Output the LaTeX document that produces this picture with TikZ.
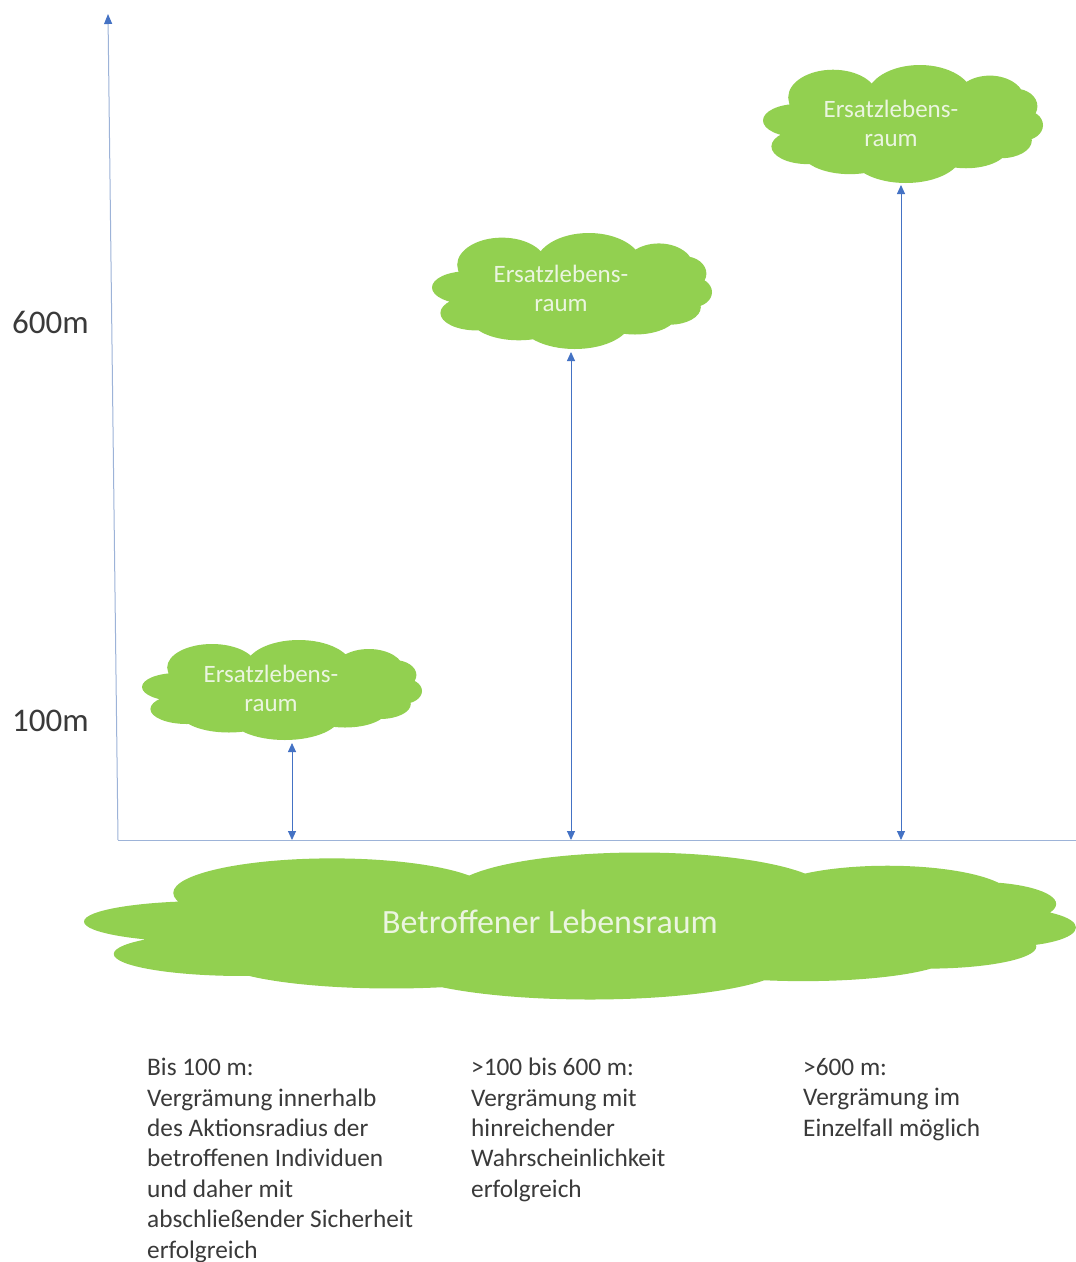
\documentclass[tikz,border=0pt]{standalone}
\usepackage{fontspec}
\setmainfont{Carlito}
\usetikzlibrary{arrows.meta}
\definecolor{leaf}{HTML}{92D050}
\definecolor{leaftext}{HTML}{EBF5E0}
\definecolor{axisc}{HTML}{9DB3D8}
\definecolor{arrc}{HTML}{4472C4}
\definecolor{txt}{HTML}{3A3A3A}
% cloud blob: centre x, centre y, half width, half height (pt)
\newcommand\cloudblob[4]{%
  \begin{scope}[shift={(#1,#2)}, x=#3pt, y=-#4pt]
    \fill[leaf]
      (0,0) ellipse [x radius=0.8, y radius=0.7]
      (-0.75,-0.06) ellipse [x radius=0.25, y radius=0.28]
      (-0.68,0.38) ellipse [x radius=0.26, y radius=0.3]
      (-0.5,-0.45) ellipse [x radius=0.32, y radius=0.47]
      (0.12,-0.45) ellipse [x radius=0.38, y radius=0.55]
      (0.62,-0.4) ellipse [x radius=0.25, y radius=0.42]
      (0.8,-0.3) ellipse [x radius=0.16, y radius=0.3]
      (0.86,0.02) ellipse [x radius=0.14, y radius=0.26]
      (0.7,0.28) ellipse [x radius=0.22, y radius=0.3]
      (0.45,0.4) ellipse [x radius=0.3, y radius=0.35]
      (0.02,0.5) ellipse [x radius=0.4, y radius=0.5]
      (-0.38,0.45) ellipse [x radius=0.35, y radius=0.4];
  \end{scope}}
\begin{document}
\begin{tikzpicture}[x=1pt,y=-1pt,
  cloudtext/.style={text=leaftext, align=center, inner sep=0pt,
    font=\fontsize{25}{29}\selectfont},
  dblarrow/.style={draw=arrc, line width=0.9pt, {Triangle[width=8pt,length=9pt]}-{Triangle[width=8pt,length=9pt]}},
  axisline/.style={draw=axisc, line width=1pt},
  axislabel/.style={text=txt, font=\fontsize{33}{38}\selectfont, anchor=base west, inner sep=0pt},
  desc/.style={text=txt, font=\fontsize{25.3}{30.4}\selectfont, align=left, anchor=north west, inner sep=0pt}
]
\useasboundingbox (0,0) rectangle (1076,1262);
\fill[white] (0,0) rectangle (1076,1262);

% axes
\coordinate (O) at (118,840);
\coordinate (Ytop) at (108,14);
\coordinate (Xend) at (1076,840);
\draw[axisline] (O) -- (Xend);
\draw[axisline, -{Triangle[width=8pt,length=10pt,color=arrc,fill=arrc]}] (O) -- (Ytop);

\node[axislabel] (l600) at (12,333) {600m};
\node[axislabel] (l100) at (12,731) {100m};

% clouds
\cloudblob{282}{690}{140}{50}
\cloudblob{572}{291}{140}{58}
\cloudblob{903}{124}{140}{59}
\cloudblob{580}{926}{496}{73.5}

\node[cloudtext] (c1) at (271,688) {Ersatzlebens-\\raum};
\node[cloudtext] (c2) at (561,288) {Ersatzlebens-\\raum};
\node[cloudtext] (c3) at (891,123) {Ersatzlebens-\\raum};
\node[text=leaftext, inner sep=0pt, font=\fontsize{34}{40}\selectfont] (big) at (550,922) {Betroffener Lebensraum};

% distance arrows
\coordinate (a1t) at (292,743);
\coordinate (a2t) at (571,352);
\coordinate (a3t) at (901,185);
\draw[dblarrow] (a1t) -- (a1t |- O);
\draw[dblarrow] (a2t) -- (a2t |- O);
\draw[dblarrow] (a3t) -- (a3t |- O);

% descriptions
\node[desc] (d1) at (147,1058) {Bis 100 m:\\Vergrämung innerhalb\\des Aktionsradius der\\betroffenen Individuen\\und daher mit\\abschließender Sicherheit\\erfolgreich};
\node[desc] (d2) at (471,1058) {>100 bis 600 m:\\Vergrämung mit\\hinreichender\\Wahrscheinlichkeit\\erfolgreich};
\node[desc] (d3) at (803,1058) {>600 m:\\Vergrämung im\\Einzelfall möglich};
\end{tikzpicture}
\end{document}
